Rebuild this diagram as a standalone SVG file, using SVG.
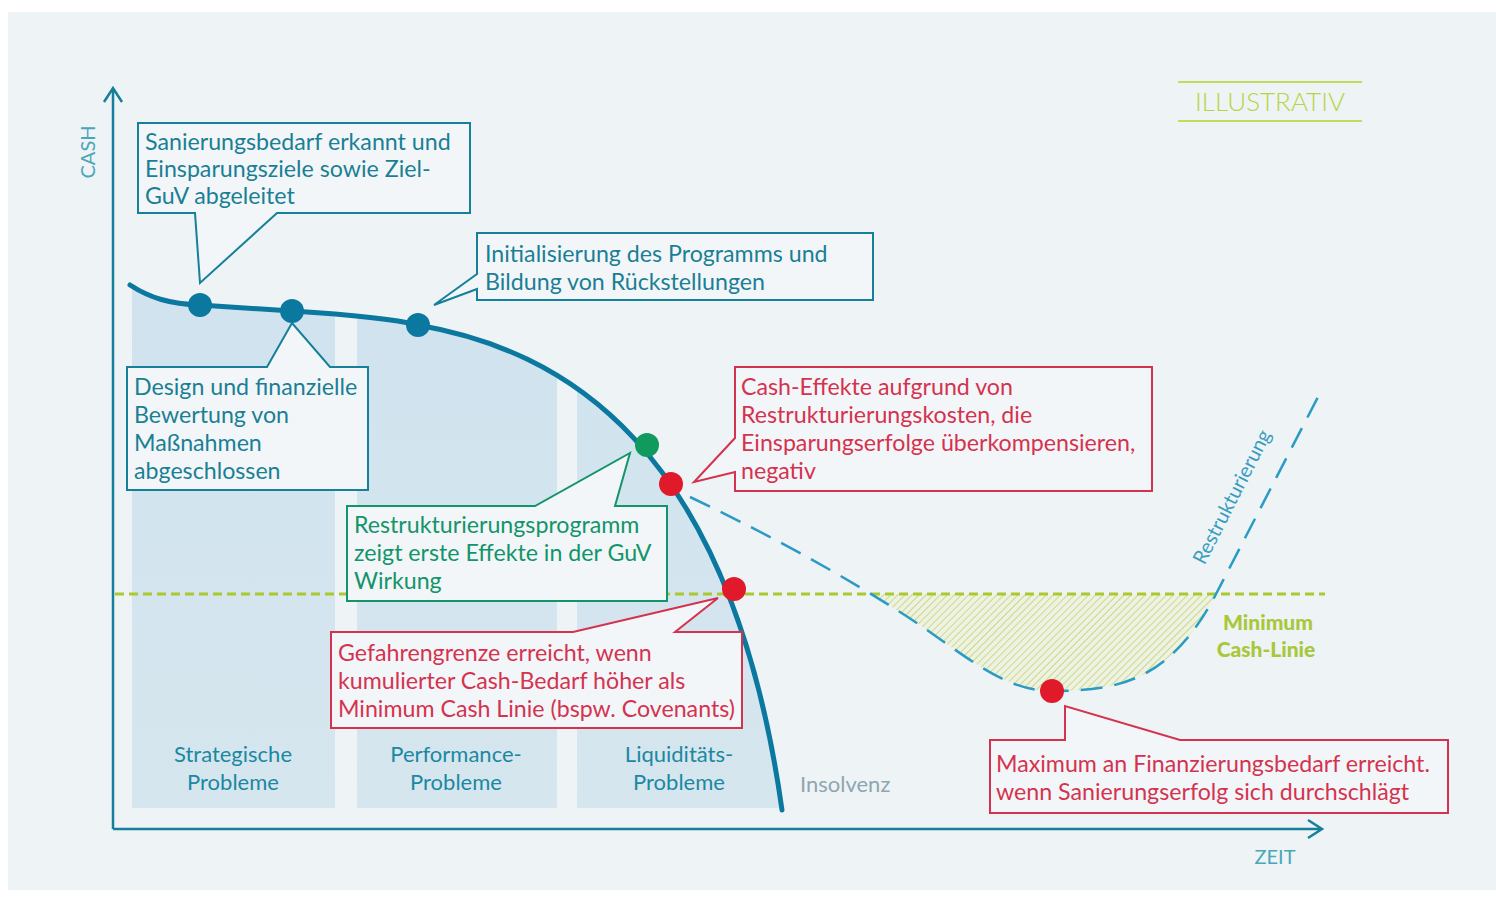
<svg xmlns="http://www.w3.org/2000/svg" width="1496" height="903" viewBox="0 0 1496 903">
  <style>
    text { font-family: Lato, "Open Sans", "Liberation Sans", sans-serif; }
    .teal { fill: #1a7f95; font-size: 23.2px; }
    .green { fill: #13946a; font-size: 23.2px; }
    .red { fill: #d5324f; font-size: 23.2px; }
    .box-teal { fill: #f2f6f8; stroke: #167f9a; stroke-width: 2; }
    .box-green { fill: #f2f6f8; stroke: #13946a; stroke-width: 2; }
    .box-red { fill: #f2f6f8; stroke: #d5324f; stroke-width: 2; }
    .phase { fill: #1b88a2; font-size: 22px; text-anchor: middle; }
    .axis { fill: none; stroke: #167f9a; stroke-width: 2.5; }
    .dot-blue { fill: #0b78a0; }
    .dot-green { fill: #119a5e; }
    .dot-red { fill: #e0192b; }
  </style>
  <defs>
    <pattern id="hatch" patternUnits="userSpaceOnUse" width="5" height="5" patternTransform="rotate(45)">
      <rect width="5" height="5" fill="#eef2e2"/>
      <line x1="0" y1="0" x2="0" y2="5" stroke="#cbd98c" stroke-width="2"/>
    </pattern>
    <clipPath id="underCurve">
      <path d="M130,285 C150,298 170,304 200,305 L292,311 C340,314 390,318 418,325 C560,350 730,440 782,810 L132,810 Z"/>
    </clipPath>
    <clipPath id="belowMin">
      <rect x="600" y="594" width="700" height="200"/>
    </clipPath>
    <linearGradient id="colFill" x1="0" y1="0" x2="0" y2="1">
      <stop offset="0" stop-color="#d0e3ee"/>
      <stop offset="1" stop-color="#d6e6ef"/>
    </linearGradient>
  </defs>

  <!-- panel -->
  <rect x="0" y="0" width="1496" height="903" fill="#ffffff"/>
  <rect x="8" y="12" width="1488" height="878" fill="#eef3f6"/>

  <!-- phase columns under the cash curve -->
  <g id="phases" clip-path="url(#underCurve)">
    <rect x="132" y="280" width="203" height="528" fill="url(#colFill)"/>
    <rect x="357" y="280" width="200" height="528" fill="url(#colFill)"/>
    <rect x="577" y="280" width="220" height="528" fill="url(#colFill)"/>
  </g>

  <!-- hatched financing gap -->
  <path id="gap" clip-path="url(#belowMin)" fill="url(#hatch)"
        d="M690,497 C780,540 850,580 900,612 C960,650 1000,691 1052,691 C1120,691 1170,680 1215,596 L1318,397 Z"/>

  <!-- minimum cash line -->
  <line x1="115" y1="594" x2="1325" y2="594" stroke="#a9c92c" stroke-width="3" stroke-dasharray="9 5"/>

  <!-- axes -->
  <g id="axes">
    <path class="axis" d="M113,829 V88 M104,102 L113,88 L122,102"/>
    <path class="axis" d="M113,829 H1322 M1308,820 L1322,829 L1308,838"/>
    <text x="95" y="152" transform="rotate(-90 95 152)" text-anchor="middle" fill="#4aa6b9" font-size="20">CASH</text>
    <text x="1275" y="864" text-anchor="middle" fill="#4aa6b9" font-size="20">ZEIT</text>
  </g>

  <!-- ILLUSTRATIV stamp -->
  <g id="stamp">
    <line x1="1178" y1="82" x2="1362" y2="82" stroke="#c3da5c" stroke-width="2"/>
    <line x1="1178" y1="121" x2="1362" y2="121" stroke="#c3da5c" stroke-width="2"/>
    <text x="1270" y="111" text-anchor="middle" fill="#b8d33f" font-size="26" font-weight="300">ILLUSTRATIV</text>
  </g>

  <!-- connectors: cash curves -->
  <g id="connectors">
    <path d="M130,285 C150,298 170,304 200,305 L292,311 C340,314 390,318 418,325 C560,350 730,440 782,810"
          fill="none" stroke="#0b78a0" stroke-width="5" stroke-linecap="round"/>
    <path d="M690,497 C780,540 850,580 900,612 C960,650 1000,691 1052,691 C1120,691 1170,680 1215,596 L1318,397"
          fill="none" stroke="#2a9bc4" stroke-width="2.5" stroke-dasharray="22 12"/>
  </g>

  <text x="1238" y="500" transform="rotate(-63 1238 500)" text-anchor="middle" fill="#3a9dbf" font-size="20">Restrukturierung</text>

  <g id="min-cash-label" fill="#a8c83a" font-size="21" font-weight="900" text-anchor="middle">
    <text x="1268" y="630">Minimum</text>
    <text x="1266" y="657">Cash-Linie</text>
  </g>

  <!-- milestone dots -->
  <g id="dots">
    <circle class="dot-blue" cx="200" cy="305" r="12"/>
    <circle class="dot-blue" cx="292" cy="311" r="12"/>
    <circle class="dot-blue" cx="418" cy="325" r="12"/>
    <circle class="dot-green" cx="647" cy="445" r="12"/>
    <circle class="dot-red" cx="671" cy="484" r="12"/>
    <circle class="dot-red" cx="734" cy="589" r="12"/>
    <circle class="dot-red" cx="1052" cy="691" r="12"/>
  </g>

  <!-- callouts -->
  <g id="n-sanierungsbedarf">
    <path class="box-teal" d="M138,123 H470 V213 H277 L200,283 L195,213 H138 Z"/>
    <text class="teal" x="145" y="150">Sanierungsbedarf erkannt und</text>
    <text class="teal" x="145" y="177">Einsparungsziele sowie Ziel-</text>
    <text class="teal" x="145" y="204">GuV abgeleitet</text>
  </g>

  <g id="n-initialisierung">
    <path class="box-teal" d="M477,233 H873 V300 H477 V289 L434,305 L477,274 Z"/>
    <text class="teal" x="485" y="262">Initialisierung des Programms und</text>
    <text class="teal" x="485" y="290">Bildung von Rückstellungen</text>
  </g>

  <g id="n-design">
    <path class="box-teal" d="M127,367 H267 L292,323 L330,367 H368 V490 H127 Z"/>
    <text class="teal" x="134" y="395">Design und finanzielle</text>
    <text class="teal" x="134" y="423">Bewertung von</text>
    <text class="teal" x="134" y="451">Maßnahmen</text>
    <text class="teal" x="134" y="479">abgeschlossen</text>
  </g>

  <g id="n-cash-effekte">
    <path class="box-red" d="M735,367 H1152 V491 H735 V472 L694,482 L735,438 Z"/>
    <text class="red" x="741" y="395">Cash-Effekte aufgrund von</text>
    <text class="red" x="741" y="423">Restrukturierungskosten, die</text>
    <text class="red" x="741" y="451">Einsparungserfolge überkompensieren,</text>
    <text class="red" x="741" y="479">negativ</text>
  </g>

  <g id="n-programm">
    <path class="box-green" d="M347,506 H535 L630,453 L615,506 H667 V601 H347 Z"/>
    <text class="green" x="354" y="533">Restrukturierungsprogramm</text>
    <text class="green" x="354" y="561">zeigt erste Effekte in der GuV</text>
    <text class="green" x="354" y="589">Wirkung</text>
  </g>

  <g id="n-gefahrengrenze">
    <path class="box-red" d="M331,632 H573 L718,598 L675,632 H742 V728 H331 Z"/>
    <text class="red" x="338" y="661">Gefahrengrenze erreicht, wenn</text>
    <text class="red" x="338" y="689">kumulierter Cash-Bedarf höher als</text>
    <text class="red" x="338" y="717">Minimum Cash Linie (bspw. Covenants)</text>
  </g>

  <g id="n-maximum">
    <path class="box-red" d="M990,740 H1065 V706 L1180,740 H1448 V813 H990 Z"/>
    <text class="red" x="996" y="772">Maximum an Finanzierungsbedarf erreicht.</text>
    <text class="red" x="996" y="800">wenn Sanierungserfolg sich durchschlägt</text>
  </g>

  <!-- phase labels -->
  <g id="phase-labels">
    <text class="phase" x="233" y="762">Strategische</text>
    <text class="phase" x="233" y="790">Probleme</text>
    <text class="phase" x="456" y="762">Performance-</text>
    <text class="phase" x="456" y="790">Probleme</text>
    <text class="phase" x="679" y="762">Liquiditäts-</text>
    <text class="phase" x="679" y="790">Probleme</text>
    <text x="800" y="792" fill="#8ea6b0" font-size="22">Insolvenz</text>
  </g>
</svg>
